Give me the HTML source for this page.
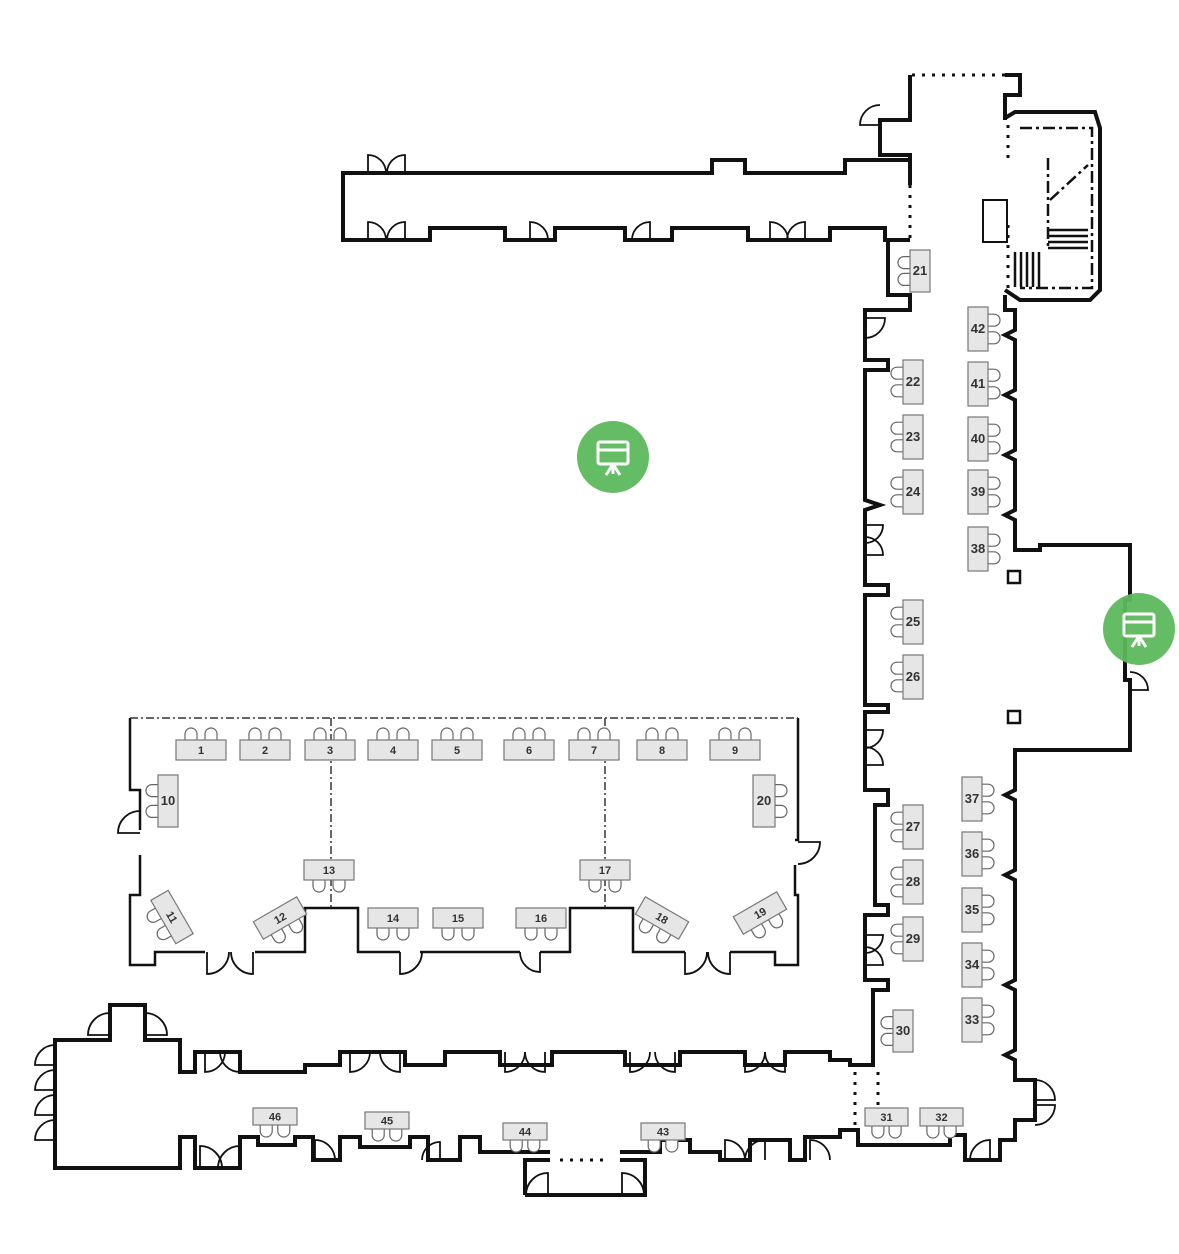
<!DOCTYPE html>
<html><head><meta charset="utf-8"><style>
html,body{margin:0;padding:0;background:#fff}
svg{display:block}
text{font-family:"Liberation Sans",sans-serif;font-weight:bold;fill:#333}
</style></head><body>
<svg id="s" width="1179" height="1254" viewBox="0 0 1179 1254" xmlns="http://www.w3.org/2000/svg">
<g fill="none" stroke="#111" stroke-width="4" stroke-linejoin="miter">
<!-- top corridor -->
<path d="M910 185 L910 160 L895 160 L895 160 L845 160 L845 173 L745 173 L745 160 L712 160 L712 173 L343 173 L343 240 L430 240 L430 228 L505 228 L505 240 L555 240 L555 228 L625 228 L625 240 L672 240 L672 228 L748 228 L748 240 L830 240 L830 228 L885 228 L885 240 L910 240"/>
<!-- vertical corridor left wall -->
<path d="M910 75 L910 120 L880 120 L880 155 L910 155 L910 160"/>
<path d="M910 240 L888 240 L888 295 L910 295 L910 310 L865 310 L865 360 L888 360 L888 370 L865 370 L865 500 L880 505 L865 510 L865 585 L888 585 L888 595 L865 595 L865 705 L888 705 L888 712 L865 712 L865 790 L888 790 L888 805 L875 805 L875 905 L888 905 L888 915 L865 915 L865 980 L888 980 L888 990 L873 990 L873 1065 L850 1065 L850 1060 L830 1060 L830 1052 L785 1052 L785 1065 L745 1065 L745 1052 L680 1052 L680 1065 L625 1065 L625 1052 L552 1052 L552 1065 L500 1065 L500 1052 L445 1052 L445 1065 L405 1065 L405 1052 L340 1052 L340 1065 L305 1065 L305 1072 L240 1072 L240 1052 L195 1052 L195 1072 L180 1072 L180 1040 L145 1040 L145 1005 L110 1005 L110 1040 L55 1040 L55 1168 L180 1168 L180 1137 L195 1137 L195 1168 L240 1168 L240 1137 L258 1137 L258 1145 L295 1145 L295 1137 L313 1137 L313 1160 L340 1160 L340 1137 L360 1137 L360 1147 L410 1147 L410 1137 L428 1137 L428 1160 L460 1160 L460 1137 L480 1137 L480 1152 L550 1152"/>
<path d="M525 1195 L525 1160 L550 1160 M620 1160 L645 1160 L645 1195 L525 1195"/>
<path d="M620 1152 L660 1152 L660 1140 L690 1140 L690 1152 L720 1152 L720 1160 L750 1160 L750 1140 L790 1140 L790 1160 L805 1160 L805 1137 L840 1137 L840 1130 L858 1130 L858 1145 L950 1145 L950 1135 L965 1135 L965 1160 L1000 1160 L1000 1140 L1015 1140 L1015 1120 L1035 1120 L1035 1080 L1015 1080 L1015 1060 L1005 1055 L1015 1050 L1015 990 L1005 985 L1015 980 L1015 880 L1005 875 L1015 870 L1015 800 L1005 795 L1015 790 L1015 750 L1130 750 L1130 680 L1125 680 L1125 600 L1130 600 L1130 545 L1040 545 L1040 550 L1015 550 L1015 520 L1005 515 L1015 510 L1015 460 L1005 455 L1015 450 L1015 400 L1005 395 L1015 390 L1015 340 L1005 335 L1015 330 L1015 310 L1005 310 L1005 295"/>
<path d="M1005 75 L1020 75 L1020 95 L1005 95 L1005 120"/>
<!-- stair box -->
<path d="M1005 118 L1015 112 L1095 112 L1100 128 L1100 290 L1090 300 L1020 300 L1005 290"/>
<!-- room walls -->
<path d="M130 718 L130 790 L140 790 L140 830 M140 855 L140 895 L130 895 L130 965 L155 965 L155 952 L205 952 M255 952 L305 952 L305 908 L358 908 L358 952 L400 952 M420 952 L520 952 M540 952 L570 952 L570 908 L633 908 L633 952 L685 952 M730 952 L775 952 L775 965 L798 965 L798 895 L795 895 L795 865 M795 840 L798 840 L798 790 L798 718" stroke-width="2.5"/>
</g>
<g fill="none" stroke="#111" stroke-width="3" stroke-dasharray="3 7">
<path d="M912 75 L1020 75"/>
<path d="M910 185 L910 240"/>
<path d="M1008 125 L1008 160 M1008 225 L1008 290"/>
<path d="M855 1072 L855 1130 M878 1072 L878 1130"/>
<path d="M560 1160 L610 1160"/>
</g>
<g fill="none" stroke="#111" stroke-width="2.5" stroke-dasharray="12 4 3 4">
<path d="M1020 128 L1092 128 L1092 288 L1020 288"/>
<path d="M1048 158 L1048 250 M1050 200 L1088 165"/>
</g>
<g fill="none" stroke="#333" stroke-width="1.5" stroke-dasharray="8 3 2 3">
<path d="M130 718 L798 718"/>
<path d="M331 718 L331 908 M605 718 L605 908"/>
</g>
<rect x="983" y="200" width="24" height="42" fill="none" stroke="#111" stroke-width="2"/>
<g stroke="#111" stroke-width="2.5"><path d="M1048 230 h40 M1048 236 h40 M1048 242 h40 M1048 248 h40 M1015 252 v35 M1021 252 v35 M1027 252 v35 M1033 252 v35 M1039 252 v35"/></g>
<rect x="1008" y="571" width="12" height="12" fill="none" stroke="#111" stroke-width="2.5"/>
<rect x="1008" y="711" width="12" height="12" fill="none" stroke="#111" stroke-width="2.5"/>
<g id="doors" fill="none" stroke="#111" stroke-width="1.8"></g>
<g id="tables"></g>
<circle cx="613" cy="457" r="36" fill="#5cb85c" opacity="0.95"/>
<circle cx="1139" cy="629" r="36" fill="#5cb85c" opacity="0.95"/>
<g fill="none" stroke="#fff" stroke-width="3">
<rect x="598" y="442" width="30" height="22" rx="2"/><path d="M598 450 h30 M613 464 l-7 11 M613 464 l7 11 M613 464 v10"/>
<rect x="1124" y="614" width="30" height="22" rx="2"/><path d="M1124 622 h30 M1139 636 l-7 11 M1139 636 l7 11 M1139 636 v10"/>
</g>
</svg>
<script>
var NS="http://www.w3.org/2000/svg",T=document.getElementById('tables'),D=document.getElementById('doors');
function el(p,tag,a){var e=document.createElementNS(NS,tag);for(var k in a)e.setAttribute(k,a[k]);p.appendChild(e);return e;}
function chair(g,cx,cy,dir){var r=6,d;
 if(dir=='u')d=`M${cx-r} ${cy} v-6 a${r} ${r} 0 0 1 ${2*r} 0 v6`;
 if(dir=='d')d=`M${cx-r} ${cy} v6 a${r} ${r} 0 0 0 ${2*r} 0 v-6`;
 if(dir=='l')d=`M${cx} ${cy-r} h-6 a${r} ${r} 0 0 0 0 ${2*r} h6`;
 if(dir=='r')d=`M${cx} ${cy-r} h6 a${r} ${r} 0 0 1 0 ${2*r} h-6`;
 el(g,'path',{d:d,fill:'#fff',stroke:'#666','stroke-width':1.2});}
function tbl(n,x,y,w,h,side,rot){var g=el(T,'g',{});
 if(rot){g.setAttribute('transform',`rotate(${rot} ${x+w/2} ${y+h/2})`);}
 if(side=='u'||side=='d'){var cy=side=='u'?y:y+h;chair(g,x+w*0.3,cy,side);chair(g,x+w*0.7,cy,side);}
 else{var cx=side=='l'?x:x+w;chair(g,cx,y+h*0.3,side);chair(g,cx,y+h*0.7,side);}
 el(g,'rect',{x:x,y:y,width:w,height:h,fill:'#e6e6e6',stroke:'#777','stroke-width':1.2});
 var t=el(g,'text',{x:x+w/2,y:y+h/2+4,'text-anchor':'middle','font-size':(w<25?13:11)});t.textContent=n;}
[201,265,330,393,457,529,594,662,735].forEach(function(c,i){tbl(i+1,c-25,740,50,20,'u');});
tbl(10,158,775,20,52,'l');tbl(20,753,775,22,52,'r');
tbl(13,304,860,50,20,'d');tbl(17,580,860,50,20,'d');
tbl(14,368,908,50,20,'d');tbl(15,433,908,50,20,'d');tbl(16,516,908,50,20,'d');
tbl(11,147,907,50,20,'d',60);tbl(12,255,908,50,20,'d',-30);tbl(18,637,908,50,20,'d',30);tbl(19,735,903,50,20,'d',-30);
tbl(21,910,250,20,42,'l');
[[22,360],[23,415],[24,470],[25,600],[26,655],[27,805],[28,860],[29,917]].forEach(function(a){tbl(a[0],903,a[1],20,44,'l');});
tbl(30,893,1010,20,42,'l');
[[42,307],[41,362],[40,417],[39,470],[38,527]].forEach(function(a){tbl(a[0],968,a[1],20,44,'r');});
[[37,777],[36,832],[35,888],[34,943],[33,998]].forEach(function(a){tbl(a[0],962,a[1],20,44,'r');});
tbl(46,253,1108,44,17,'d');tbl(45,365,1112,44,17,'d');tbl(44,503,1123,44,17,'d');tbl(43,641,1123,44,17,'d');
tbl(31,865,1108,43,18,'d');tbl(32,920,1108,43,18,'d');
// doors: quarter arcs
function door(x,y,r,a){ // a: orientation string
 var d;
 switch(a){
 case 'ur':d=`M${x} ${y} v-${r} a${r} ${r} 0 0 1 ${r} ${r}`;break;
 case 'ul':d=`M${x} ${y} v-${r} a${r} ${r} 0 0 0 -${r} ${r}`;break;
 case 'dr':d=`M${x} ${y} v${r} a${r} ${r} 0 0 0 ${r} -${r}`;break;
 case 'dl':d=`M${x} ${y} v${r} a${r} ${r} 0 0 1 -${r} -${r}`;break;
 case 'lu':d=`M${x} ${y} h-${r} a${r} ${r} 0 0 1 ${r} -${r}`;break;
 case 'ld':d=`M${x} ${y} h-${r} a${r} ${r} 0 0 0 ${r} ${r}`;break;
 case 'ru':d=`M${x} ${y} h${r} a${r} ${r} 0 0 0 -${r} -${r}`;break;
 case 'rd':d=`M${x} ${y} h${r} a${r} ${r} 0 0 1 -${r} ${r}`;break;}
 el(D,'path',{d:d});}
door(368,173,18,'ur');door(405,173,18,'ul');
door(368,240,18,'ur');door(405,240,18,'ul');door(530,240,18,'ur');door(650,240,18,'ul');door(770,240,18,'ur');door(805,240,18,'ul');
door(880,125,20,'lu');door(865,318,20,'rd');
door(865,525,18,'rd');door(865,555,18,'ru');door(865,730,18,'rd');door(865,765,18,'ru');door(865,935,18,'rd');door(865,965,18,'ru');
door(140,833,22,'lu');door(798,842,22,'rd');
door(207,952,22,'dr');door(253,952,22,'dl');door(400,952,22,'dr');door(540,952,20,'dl');door(685,952,22,'dr');door(730,952,22,'dl');
door(205,1052,20,'dr');door(240,1052,20,'dl');door(350,1052,20,'dr');door(400,1052,20,'dl');door(505,1052,20,'dr');door(545,1052,20,'dl');door(630,1052,20,'dr');door(675,1052,20,'dl');door(745,1052,20,'dr');door(785,1052,20,'dl');
door(110,1035,22,'lu');door(145,1035,22,'ru');
door(55,1065,20,'lu');door(55,1090,20,'lu');door(55,1115,20,'lu');door(55,1140,20,'lu');
door(200,1168,22,'ur');door(240,1168,22,'ul');door(315,1160,20,'ur');door(440,1160,18,'ul');door(725,1160,20,'ur');door(765,1160,20,'ul');door(810,1160,20,'ur');door(990,1160,20,'ul');
door(548,1195,22,'ul');door(622,1195,22,'ur');
door(1035,1100,20,'ru');door(1035,1105,20,'rd');door(1130,690,18,'ru');
</script>
</body></html>
